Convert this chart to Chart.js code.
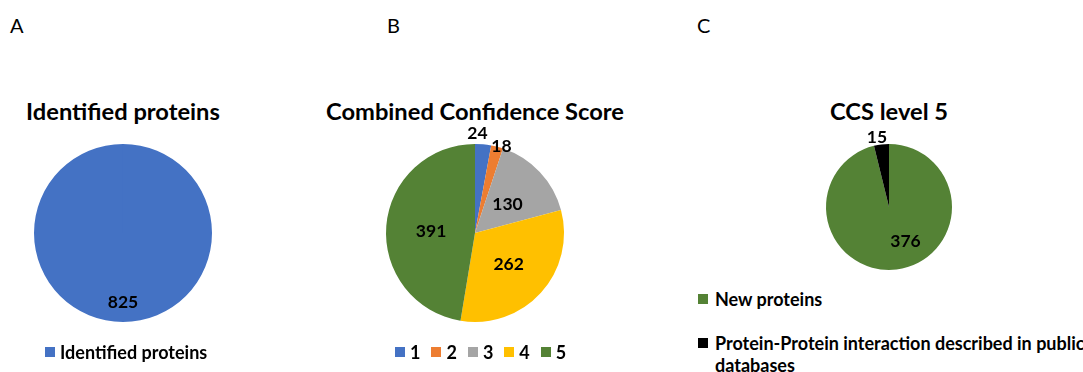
<!DOCTYPE html>
<html>
<head>
<meta charset="utf-8">
<script src="https://cdn.jsdelivr.net/npm/chart.js@4/dist/chart.umd.min.js"></script>
<style>
  html, body { margin: 0; padding: 0; background: #fff; }
  body { width: 1083px; height: 372px; position: relative; overflow: hidden;
         font-family: Lato, "Open Sans", sans-serif; color: #000; }
  .panel { position: absolute; font-size: 20px; font-weight: 400; line-height: 20px; }
  .title { position: absolute; font-size: 23.7px; font-weight: 700; line-height: 26px;
           text-align: center; white-space: nowrap; width: 400px; }
  canvas { position: absolute; }
  .legend { position: absolute; font-size: 18px; font-weight: 700; line-height: 22px; }
  .row { display: flex; align-items: center; white-space: nowrap; }
  .item { display: inline-flex; align-items: center; margin-right: 11px; }
  .sw { display: inline-block; width: 10px; height: 10px; margin-right: 5px; flex: none; }
  .wrapItem { position: relative; padding-left: 17px; }
  .wrapItem .sw { position: absolute; left: 0; top: 6px; }
</style>
</head>
<body>

<div class="panel" id="letterA" style="left:10px; top:15px;"></div>
<div class="panel" id="letterB" style="left:387px; top:15px;"></div>
<div class="panel" id="letterC" style="left:697px; top:15px;"></div>

<div class="title" id="titleA" style="left:-77px; top:98px;"></div>
<div class="title" id="titleB" style="left:275px; top:98px;"></div>
<div class="title" id="titleC" style="left:689px; top:98px;"></div>

<canvas id="chartA" width="220" height="220" style="left:13px; top:123px;"></canvas>
<canvas id="chartB" width="220" height="220" style="left:365px; top:123px;"></canvas>
<canvas id="chartC" width="160" height="160" style="left:809px; top:127px;"></canvas>

<div class="legend" id="legendA" style="left:45px; top:341px;"></div>
<div class="legend" id="legendB" style="left:395px; top:341px;"></div>
<div class="legend" id="legendC" style="left:698px; top:288px; width:390px;"></div>

<script>
// Panel letters and titles
const panelLetters = ['A', 'B', 'C'];
const titles = ['Identified proteins', 'Combined Confidence Score', 'CCS level 5'];

// Panel A: all identified proteins
const labelsA = ['Identified proteins'];
const valuesA = [825];
const colorsA = ['#4472C4'];

// Panel B: proteins by combined confidence score
const labelsB = ['1', '2', '3', '4', '5'];
const valuesB = [24, 18, 130, 262, 391];
const colorsB = ['#4472C4', '#ED7D31', '#A5A5A5', '#FFC000', '#548235'];

// Panel C: CCS level 5 proteins split by prior description
const labelsC = ['New proteins', 'Protein-Protein interaction described in public databases'];
const valuesC = [376, 15];
const colorsC = ['#548235', '#000000'];

panelLetters.forEach((t, i) => { document.getElementById('letter' + 'ABC'[i]).textContent = t; });
titles.forEach((t, i) => { document.getElementById('title' + 'ABC'[i]).textContent = t; });

// Value labels placed along each slice's mid-angle (f = fraction of radius, dx/dy = nudge)
const sliceLabels = {
  id: 'sliceLabels',
  afterDatasetsDraw(chart, args, opts) {
    const ctx = chart.ctx;
    const meta = chart.getDatasetMeta(0);
    const data = chart.data.datasets[0].data;
    ctx.save();
    ctx.font = opts.font;
    ctx.fillStyle = opts.color;
    ctx.textAlign = 'center';
    ctx.textBaseline = 'middle';
    meta.data.forEach((arc, i) => {
      const p = opts.place[i];
      const a = arc.getProps(['x', 'y', 'startAngle', 'endAngle', 'outerRadius'], true);
      const mid = (a.startAngle + a.endAngle) / 2;
      const d = a.outerRadius * p.f;
      ctx.fillText(String(data[i]),
        a.x + Math.cos(mid) * d + (p.dx || 0),
        a.y + Math.sin(mid) * d + (p.dy || 0));
    });
    ctx.restore();
  }
};

function makePie(id, labels, values, colors, pad, place) {
  return new Chart(document.getElementById(id), {
    type: 'pie',
    data: { labels, datasets: [{ data: values, backgroundColor: colors, borderWidth: 0 }] },
    options: {
      responsive: false,
      animation: false,
      layout: { padding: pad },
      plugins: {
        legend: { display: false },
        tooltip: { enabled: false },
        sliceLabels: { font: 'bold 17.5px Lato, "Open Sans", sans-serif', color: '#000', place }
      }
    },
    plugins: [sliceLabels]
  });
}

makePie('chartA', labelsA, valuesA, colorsA, 21, [{ f: 0.78 }]);
makePie('chartB', labelsB, valuesB, colorsB, 21, [
  { f: 1.123, dx: -6.6 },
  { f: 1.003, dx: 4.3 },
  { f: 0.486, dx: 1, dy: 1 },
  { f: 0.51, dy: 1 },
  { f: 0.495, dy: 2 }
]);
makePie('chartC', labelsC, valuesC, colorsC, 17, [
  { f: 0.6, dx: 12, dy: -3 },
  { f: 1.111, dx: -3.6 }
]);

// HTML legends built from the same label and colour arrays
function swatch(c) {
  const s = document.createElement('span');
  s.className = 'sw';
  s.style.background = c;
  return s;
}
(function () {
  const la = document.getElementById('legendA');
  const rowA = document.createElement('div'); rowA.className = 'row';
  labelsA.forEach((l, i) => {
    const it = document.createElement('span'); it.className = 'item';
    it.appendChild(swatch(colorsA[i])); it.appendChild(document.createTextNode(l));
    rowA.appendChild(it);
  });
  la.appendChild(rowA);

  const lb = document.getElementById('legendB');
  const rowB = document.createElement('div'); rowB.className = 'row';
  labelsB.forEach((l, i) => {
    const it = document.createElement('span'); it.className = 'item';
    it.appendChild(swatch(colorsB[i])); it.appendChild(document.createTextNode(l));
    rowB.appendChild(it);
  });
  lb.appendChild(rowB);

  const lc = document.getElementById('legendC');
  labelsC.forEach((l, i) => {
    const it = document.createElement('div'); it.className = 'wrapItem';
    if (i > 0) it.style.marginTop = '22px';
    it.appendChild(swatch(colorsC[i])); it.appendChild(document.createTextNode(l));
    lc.appendChild(it);
  });
})();
</script>
</body>
</html>
